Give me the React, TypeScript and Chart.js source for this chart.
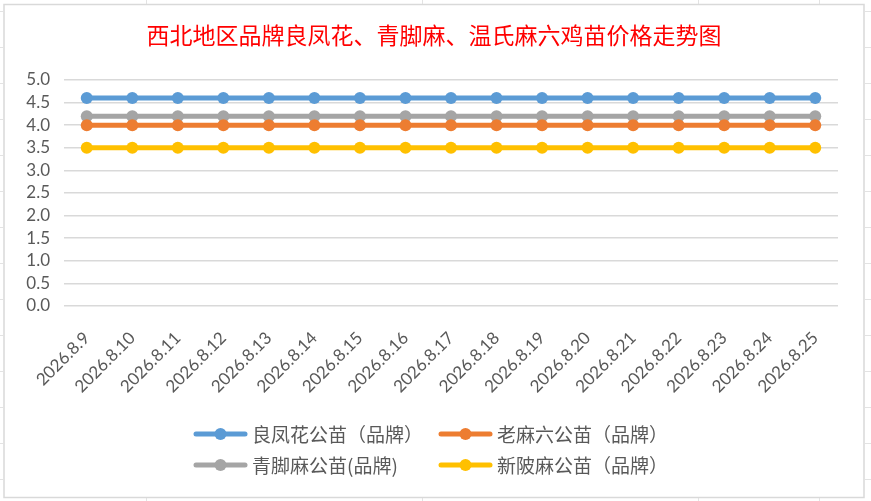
import { useEffect, useRef } from "react"
import { Chart, registerables } from "chart.js"

Chart.register(...registerables)

const titleText = "西北地区品牌良凤花、青脚麻、温氏麻六鸡苗价格走势图"

const dates = [
  "2026.8.9", "2026.8.10", "2026.8.11", "2026.8.12", "2026.8.13", "2026.8.14",
  "2026.8.15", "2026.8.16", "2026.8.17", "2026.8.18", "2026.8.19", "2026.8.20",
  "2026.8.21", "2026.8.22", "2026.8.23", "2026.8.24", "2026.8.25",
]

const seriesNames = ["良凤花公苗（品牌）", "老麻六公苗（品牌）", "青脚麻公苗(品牌)", "新陂麻公苗（品牌）"]
const seriesColors = ["#5b9bd5", "#ed7d31", "#a5a5a5", "#ffc000"]

const liangfenghua = [4.6, 4.6, 4.6, 4.6, 4.6, 4.6, 4.6, 4.6, 4.6, 4.6, 4.6, 4.6, 4.6, 4.6, 4.6, 4.6, 4.6]
const laomaliu = [4.0, 4.0, 4.0, 4.0, 4.0, 4.0, 4.0, 4.0, 4.0, 4.0, 4.0, 4.0, 4.0, 4.0, 4.0, 4.0, 4.0]
const qingjiaoma = [4.2, 4.2, 4.2, 4.2, 4.2, 4.2, 4.2, 4.2, 4.2, 4.2, 4.2, 4.2, 4.2, 4.2, 4.2, 4.2, 4.2]
const xinpima = [3.5, 3.5, 3.5, 3.5, 3.5, 3.5, 3.5, 3.5, 3.5, 3.5, 3.5, 3.5, 3.5, 3.5, 3.5, 3.5, 3.5]

const yTicks = [0, 0.5, 1, 1.5, 2, 2.5, 3, 3.5, 4, 4.5, 5]

const W = 871
const H = 501

// white sheet, faint spreadsheet cells around, chart border
const framePlugin = {
  id: "frame",
  beforeDraw(chart: Chart) {
    const ctx = chart.ctx
    ctx.save()
    ctx.fillStyle = "#ffffff"
    ctx.fillRect(0, 0, W, H)
    ctx.strokeStyle = "#e3e3e3"
    ctx.lineWidth = 1
    ctx.beginPath()
    for (let y = 11; y < H; y += 36) {
      ctx.moveTo(0, y + 0.5)
      ctx.lineTo(3, y + 0.5)
      ctx.moveTo(865, y + 0.5)
      ctx.lineTo(W, y + 0.5)
    }
    for (const x of [146, 422, 698, 819]) {
      ctx.moveTo(x + 0.5, 0)
      ctx.lineTo(x + 0.5, 4)
      ctx.moveTo(x + 0.5, 498)
      ctx.lineTo(x + 0.5, H)
    }
    ctx.stroke()
    ctx.strokeStyle = "#d9d9d9"
    ctx.lineWidth = 1.5
    ctx.strokeRect(4, 4.5, 860, 493)
    ctx.restore()
  },
}

// title and two-column legend
const textPlugin = {
  id: "texts",
  afterDraw(chart: Chart) {
    const ctx = chart.ctx
    ctx.save()
    ctx.fillStyle = "#ff0000"
    ctx.font = "23px 'Noto Sans CJK SC'"
    ctx.textAlign = "center"
    ctx.textBaseline = "middle"
    ctx.fillText(titleText, 434, 35)

    const cols = [196, 441]
    const rows = [434, 465]
    chart.data.datasets.forEach((ds, i) => {
      const x = cols[i % 2]
      const y = rows[Math.floor(i / 2)]
      const color = ds.borderColor as string
      ctx.strokeStyle = color
      ctx.lineWidth = 5
      ctx.lineCap = "round"
      ctx.beginPath()
      ctx.moveTo(x, y)
      ctx.lineTo(x + 49, y)
      ctx.stroke()
      ctx.fillStyle = color
      ctx.beginPath()
      ctx.arc(x + 24.5, y, 6, 0, Math.PI * 2)
      ctx.fill()
      ctx.fillStyle = "#595959"
      ctx.font = "19px 'Noto Sans CJK SC'"
      ctx.textAlign = "left"
      ctx.fillText(ds.label as string, x + 56, y + 1)
    })
    ctx.restore()
  },
}

export default function App() {
  const canvasRef = useRef<HTMLCanvasElement>(null)
  const chartRef = useRef<Chart | null>(null)

  useEffect(() => {
    if (!canvasRef.current) return
    const ctx = canvasRef.current.getContext("2d")
    if (!ctx) return

    if (chartRef.current) chartRef.current.destroy()

    const values = [liangfenghua, laomaliu, qingjiaoma, xinpima]

    chartRef.current = new Chart(ctx, {
      type: "line",
      data: {
        labels: dates,
        datasets: values.map((data, i) => ({
          label: seriesNames[i],
          data,
          borderColor: seriesColors[i],
          backgroundColor: seriesColors[i],
          pointBackgroundColor: seriesColors[i],
          pointBorderColor: seriesColors[i],
          pointBorderWidth: 0,
          pointRadius: 6,
          borderWidth: 5,
          tension: 0,
        })),
      },
      options: {
        responsive: false,
        animation: false,
        layout: { padding: { left: 0, top: 80, right: 33, bottom: 0 } },
        plugins: {
          legend: { display: false },
          title: { display: false },
          tooltip: { enabled: false },
        },
        scales: {
          x: {
            offset: true,
            grid: { display: false },
            border: { display: false },
            ticks: {
              minRotation: 45,
              maxRotation: 45,
              autoSkip: false,
              padding: 14,
              color: "#595959",
              font: { family: "Lato", size: 17 },
            },
            afterFit: (scale) => {
              scale.height = 195
            },
          },
          y: {
            min: 0,
            max: 5,
            grid: { color: "#d9d9d9", lineWidth: 1.5, drawTicks: false },
            border: { display: false },
            afterBuildTicks: (scale) => {
              scale.ticks = yTicks.map((v) => ({ value: v }))
            },
            ticks: {
              autoSkip: false,
              padding: 14,
              color: "#595959",
              font: { family: "Lato", size: 17 },
              callback: (value) => Number(value).toFixed(1),
            },
            afterFit: (scale) => {
              scale.width = 64
            },
          },
        },
      },
      plugins: [framePlugin, textPlugin],
    })

    return () => {
      if (chartRef.current) {
        chartRef.current.destroy()
        chartRef.current = null
      }
    }
  }, [])

  return (
    <div style={{ position: "fixed", left: 0, top: 0, width: W, height: H, background: "#fff" }}>
      <canvas ref={canvasRef} width={W} height={H} style={{ width: W, height: H, display: "block" }}></canvas>
    </div>
  )
}
